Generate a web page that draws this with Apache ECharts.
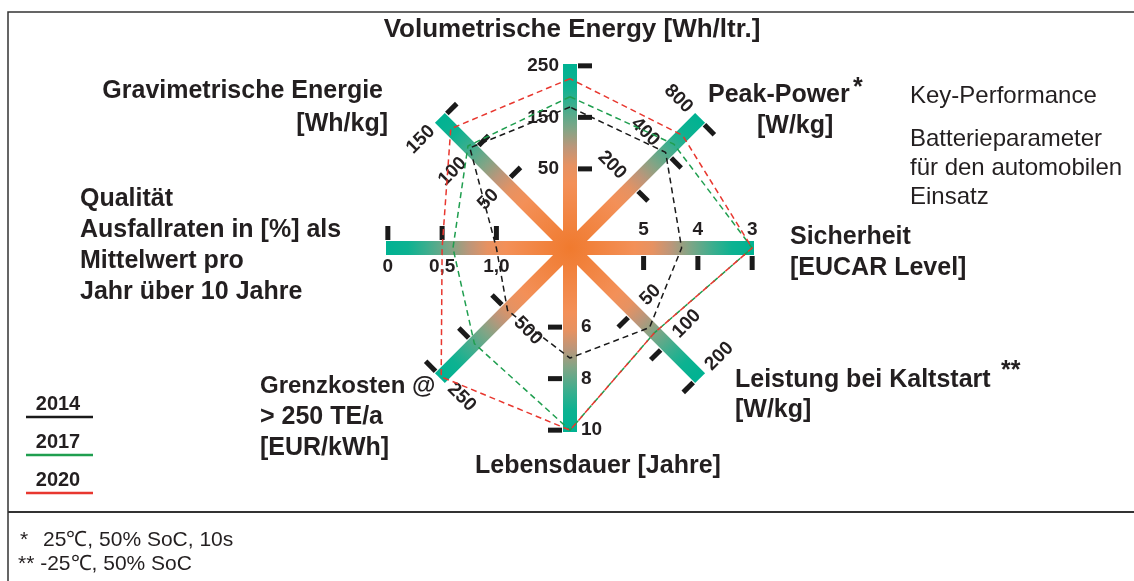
<!DOCTYPE html>
<html>
<head>
<meta charset="utf-8">
<script src="https://cdn.jsdelivr.net/npm/echarts@6/dist/echarts.min.js"></script>
<style>
  html, body { margin: 0; padding: 0; background: #fff; }
  #chart { width: 1134px; height: 581px; }
</style>
</head>
<body>
<div id="chart"></div>
<script>
// axes in radar order, counter-clockwise starting at the top
const axisNames = ['Volumetrische Energy', 'Gravimetrische Energie', 'Qualität', 'Grenzkosten',
    'Lebensdauer', 'Leistung bei Kaltstart', 'Sicherheit', 'Peak-Power'];
const axisScale = ['linear', 'linear', 'linear', 'linear', 'linear', 'log', 'linear', 'log'];
const tickValues = [[50, 150, 250], [50, 100, 150], [1, 0.5, 0], [500, 375, 250],
    [6, 8, 10], [50, 100, 200], [5, 4, 3], [200, 400, 800]];
const tickLabels = [['50', '150', '250'], ['50', '100', '150'], ['1,0', '0,5', '0'], ['500', '', '250'],
    ['6', '8', '10'], ['50', '100', '200'], ['5', '4', '3'], ['200', '400', '800']];

const years = ['2014', '2017', '2020'];
const values2014 = [170, 105, 1.0, 500, 7.2, 70, 4.3, 400];
const values2017 = [190, 108, 0.6, 375, 10, 78, 3, 475];
const values2020 = [225, 135, 0.5, 250, 10, 78, 3, 570];

// layout
const CX = 570, CY = 248, R = 184;
const innerFrac = [0.43, 0.5, 0.40, 0.48, 0.43, 0.49, 0.40, 0.48];
const outerFrac = 0.99;
const FONT = '"Liberation Sans", Arial, sans-serif';
const yearColors = ['#1a1a1a', '#1f9e4f', '#e8372f'];

// value -> share of the spoke (first tick at innerFrac, last tick at outerFrac)
const norm = (i, v) => {
    const f = axisScale[i] === 'log' ? Math.log : (x) => x;
    const t = tickValues[i];
    const a = f(t[0]), b = f(t[t.length - 1]);
    return innerFrac[i] + (outerFrac - innerFrac[i]) * (f(v) - a) / (b - a);
};

const spokeGradient = {
    type: 'radial', x: CX, y: CY, r: R, global: true,
    colorStops: [
        { offset: 0, color: '#f07a2e' },
        { offset: 0.35, color: '#f39058' },
        { offset: 0.45, color: '#e69262' },
        { offset: 0.55, color: '#bb967a' },
        { offset: 0.65, color: '#80a586' },
        { offset: 0.78, color: '#3aae8e' },
        { offset: 0.88, color: '#0db291' },
        { offset: 1, color: '#00b292' },
    ],
};

const graphics = [];

// frame and footnote separator
graphics.push({ type: 'rect', shape: { x: 8, y: 12, width: 1200, height: 700 },
    style: { fill: 'none', stroke: '#333', lineWidth: 1.5 }, silent: true });
graphics.push({ type: 'line', shape: { x1: 8, y1: 512, x2: 1134, y2: 512 },
    style: { stroke: '#333', lineWidth: 2 }, silent: true });

// ticks + tick labels, placed along each spoke
axisNames.forEach((name, i) => {
    const ang = (90 + 45 * i) * Math.PI / 180;
    const dx = Math.cos(ang), dy = -Math.sin(ang);
    const nx = -dy, ny = dx;
    tickValues[i].forEach((v, k) => {
        const r = norm(i, v) * R;
        const px = CX + dx * r, py = CY + dy * r;
        graphics.push({ type: 'line', z: 5, silent: true,
            shape: { x1: px + nx * 8, y1: py + ny * 8, x2: px + nx * 22, y2: py + ny * 22 },
            style: { stroke: '#1a1a1a', lineWidth: 5 } });
        const label = tickLabels[i][k];
        if (!label) return;
        const txt = { type: 'text', z: 6, silent: true, style: { text: label, font: 'bold 19px ' + FONT, fill: '#231f20' } };
        if (Math.abs(nx) < 0.01) {
            txt.x = px - nx * 9; txt.y = py - ny * 9;
            txt.style.align = 'center';
            txt.style.verticalAlign = -ny > 0 ? 'top' : 'bottom';
        } else if (Math.abs(ny) < 0.01) {
            txt.x = px - nx * 11; txt.y = py;
            txt.style.align = -nx > 0 ? 'left' : 'right';
            txt.style.verticalAlign = 'middle';
        } else {
            const towards = nx > 0;
            const ux = towards ? nx : -nx, uy = towards ? ny : -ny;
            txt.x = px - nx * 13; txt.y = py - ny * 13;
            txt.rotation = Math.atan2(-uy, ux);
            txt.style.align = towards ? 'right' : 'left';
            txt.style.verticalAlign = 'middle';
        }
        graphics.push(txt);
    });
});

// axis titles and side texts
const bold = 'bold 25px ' + FONT;
const plain = '24px ' + FONT;
const small = '21px ' + FONT;
const texts = [
    ['Volumetrische Energy [Wh/ltr.]', 572, 30, 'center', 'bold 26px ' + FONT],
    ['Gravimetrische Energie', 383, 91, 'right', bold],
    ['[Wh/kg]', 388, 124, 'right', bold],
    ['Peak-Power', 708, 95, 'left', bold],
    ['*', 853, 88, 'left', bold],
    ['[W/kg]', 757, 126, 'left', bold],
    ['Sicherheit', 790, 237, 'left', bold],
    ['[EUCAR Level]', 790, 268, 'left', bold],
    ['Qualität', 80, 199, 'left', bold],
    ['Ausfallraten in [%] als', 80, 230, 'left', bold],
    ['Mittelwert pro', 80, 261, 'left', bold],
    ['Jahr über 10 Jahre', 80, 292, 'left', bold],
    ['Grenzkosten @', 260, 386, 'left', 'bold 24px ' + FONT],
    ['> 250 TE/a', 260, 417, 'left', bold],
    ['[EUR/kWh]', 260, 448, 'left', bold],
    ['Lebensdauer [Jahre]', 475, 466, 'left', bold],
    ['Leistung bei Kaltstart', 735, 380, 'left', bold],
    ['**', 1001, 371, 'left', bold],
    ['[W/kg]', 735, 410, 'left', bold],
    ['Key-Performance', 910, 96, 'left', plain],
    ['Batterieparameter', 910, 139, 'left', plain],
    ['für den automobilen', 910, 168, 'left', plain],
    ['Einsatz', 910, 197, 'left', plain],
    ['*', 20, 540, 'left', small],
    ['25℃, 50% SoC, 10s', 43, 540, 'left', small],
    ['** -25℃, 50% SoC', 18, 564, 'left', small],
];
texts.forEach(([t, x, y, align, font]) => {
    graphics.push({ type: 'text', x, y, silent: true, z: 6,
        style: { text: t, font, fill: '#231f20', align, verticalAlign: 'middle' } });
});

// legend: year over a coloured rule
years.forEach((y, k) => {
    const ty = 404 + k * 38;
    graphics.push({ type: 'text', x: 58, y: ty, silent: true, z: 6,
        style: { text: y, font: 'bold 20px ' + FONT, fill: '#231f20', align: 'center', verticalAlign: 'middle' } });
    graphics.push({ type: 'line', silent: true, z: 6,
        shape: { x1: 26, y1: ty + 13, x2: 93, y2: ty + 13 },
        style: { stroke: yearColors[k], lineWidth: 2.5 } });
});

const seriesValues = [values2014, values2017, values2020];

const chart = echarts.init(document.getElementById('chart'), null, { renderer: 'canvas' });
chart.setOption({
    animation: false,
    backgroundColor: '#fff',
    radar: {
        center: [CX, CY],
        radius: R,
        startAngle: 90,
        shape: 'polygon',
        indicator: axisNames.map((name) => ({ name, min: 0, max: 1 })),
        axisName: { show: false },
        splitNumber: 1,
        splitLine: { show: false },
        splitArea: { show: false },
        axisTick: { show: false },
        axisLabel: { show: false },
        axisLine: { lineStyle: { width: 14, cap: 'butt', color: spokeGradient } },
    },
    series: [{
        type: 'radar',
        z: 10,
        symbol: 'none',
        silent: true,
        data: seriesValues.map((vals, k) => ({
            name: years[k],
            value: vals.map((v, i) => norm(i, v)),
            lineStyle: { color: yearColors[k], width: 1.5, type: [6, 4] },
        })),
    }],
    graphic: { elements: graphics },
});
</script>
</body>
</html>
